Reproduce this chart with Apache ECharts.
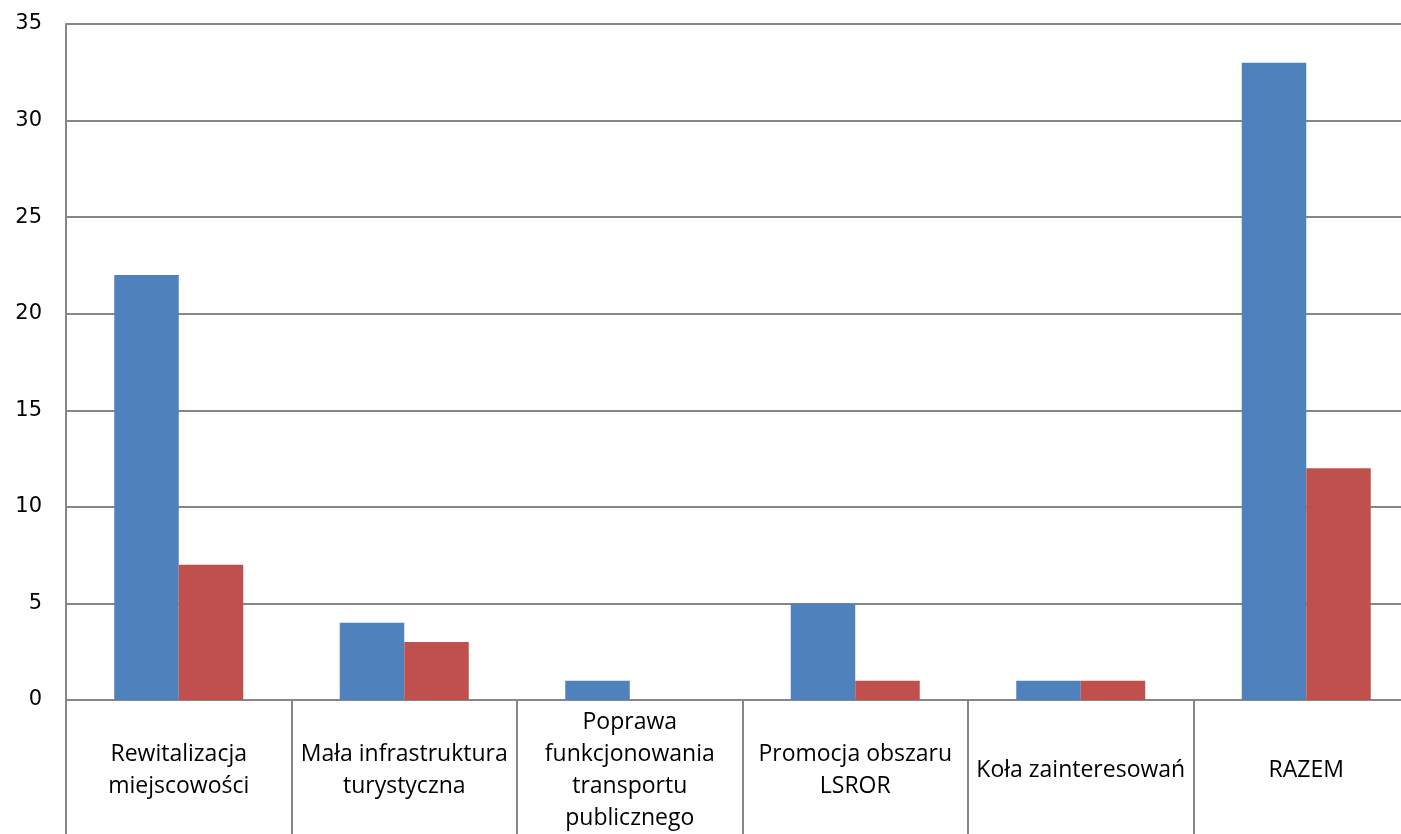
<!DOCTYPE html>
<html>
<head>
<meta charset="utf-8">
<script src="https://cdn.jsdelivr.net/npm/echarts@6/dist/echarts.min.js"></script>
<style>
  html, body { margin: 0; padding: 0; background: #fff; overflow: hidden; }
  #chart { width: 1419px; height: 834px; }
</style>
</head>
<body>
<div id="chart"></div>
<script>
const categories = [
  'Rewitalizacja\nmiejscowości',
  'Mała infrastruktura\nturystyczna',
  'Poprawa\nfunkcjonowania\ntransportu\npublicznego',
  'Promocja obszaru\nLSROR',
  'Koła zainteresowań',
  'RAZEM'
]
const blueValues = [22, 4, 1, 5, 1, 33]
const redValues = [7, 3, 0, 1, 1, 12]
const yTicks = { min: 0, max: 35, interval: 5 }

// the right end of the plot is cut off by the window, like in the source
const chart = echarts.init(document.getElementById('chart'))
const gridColor = '#878787'

chart.setOption({
  animation: false,
  grid: {
    left: 66,
    right: 0,
    top: 24,
    bottom: 133
  },
  xAxis: {
    type: 'category',
    data: categories,
    axisLine: { lineStyle: { color: gridColor, width: 2 } },
    axisTick: {
      show: true,
      length: 140,
      lineStyle: { color: gridColor, width: 2 }
    },
    axisLabel: {
      interval: 0,
      margin: 70,
      verticalAlign: 'middle',
      color: '#000',
      fontFamily: 'Open Sans',
      fontSize: 23,
      lineHeight: 32
    }
  },
  yAxis: {
    type: 'value',
    min: yTicks.min,
    max: yTicks.max,
    interval: yTicks.interval,
    axisLine: { show: true, lineStyle: { color: gridColor, width: 2 } },
    axisTick: { show: false },
    splitLine: { lineStyle: { color: gridColor, width: 2 } },
    axisLabel: {
      margin: 24,
      color: '#000',
      fontFamily: 'DejaVu Sans',
      fontSize: 21
    }
  },
  series: [
    {
      type: 'bar',
      data: blueValues,
      barWidth: '28.6%',
      barGap: '0%',
      itemStyle: { color: '#4F81BD' }
    },
    {
      type: 'bar',
      data: redValues,
      barWidth: '28.6%',
      itemStyle: { color: '#C0504D' }
    }
  ]
})
</script>
</body>
</html>
